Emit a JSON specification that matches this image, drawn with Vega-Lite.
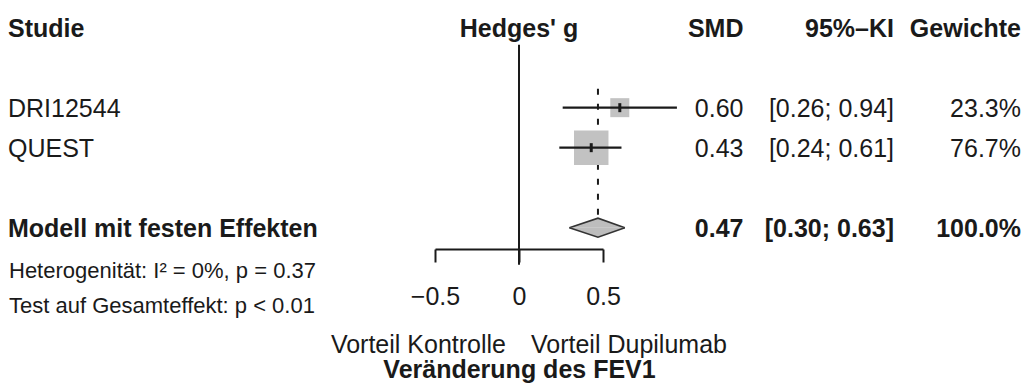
{
  "$schema": "https://vega.github.io/schema/vega-lite/v6.json",
  "padding": {"left": 8, "right": 4, "top": 0, "bottom": 0},
  "spacing": 0,
  "bounds": "flush",
  "background": "white",
  "config": {
    "view": {"stroke": null},
    "font": "Liberation Sans",
    "text": {"fontSize": 25, "color": "#1a1a1a", "font": "Liberation Sans", "baseline": "middle"},
    "axisX": {
      "grid": false,
      "domainColor": "#1a1a1a",
      "domainWidth": 2,
      "tickColor": "#1a1a1a",
      "tickWidth": 2,
      "tickSize": 13,
      "labelFont": "Liberation Sans",
      "labelFontSize": 25,
      "labelColor": "#1a1a1a",
      "labelPadding": 22,
      "labelFlush": false,
      "labelOverlap": false,
      "titleFont": "Liberation Sans",
      "titleFontSize": 25,
      "titleFontWeight": "bold",
      "titleColor": "#1a1a1a",
      "titlePadding": 48
    }
  },
  "datasets": {
    "kopf": [
      {"studie": "Studie", "effekt": "Hedges' g", "smd": "SMD", "ki": "95%–KI", "gewicht": "Gewichte"}
    ],
    "studien": [
      {"studie": "DRI12544", "smd": 0.60, "untere": 0.26, "obere": 0.94, "gewicht": 0.233},
      {"studie": "QUEST", "smd": 0.43, "untere": 0.24, "obere": 0.61, "gewicht": 0.767}
    ],
    "gesamt": [
      {"studie": "Modell mit festen Effekten", "smd": 0.47, "untere": 0.30, "obere": 0.63, "gewicht": 1.0}
    ],
    "statistik": [
      {"zeile": "Heterogenität", "text": "Heterogenität: I² = 0%, p = 0.37"},
      {"zeile": "Test", "text": "Test auf Gesamteffekt: p < 0.01"}
    ],
    "seiten": [
      {"seite": "links", "text": "Vorteil Kontrolle"},
      {"seite": "rechts", "text": "Vorteil Dupilumab"}
    ]
  },
  "hconcat": [
    {
      "width": 426.5,
      "height": 387,
      "layer": [
        {
          "data": {"name": "kopf"},
          "mark": {"type": "text", "align": "left", "fontWeight": "bold", "dy": 1},
          "encoding": {
            "x": {"value": 0},
            "y": {"datum": "Kopf", "type": "nominal", "axis": null,
                  "scale": {"type": "point", "domain": ["Kopf", "Leer1", "DRI12544", "QUEST", "Leer2", "Modell mit festen Effekten", "Heterogenität", "Test", "Vorteil"], "padding": 0.8375, "align": 0.413, "round": false}},
            "text": {"field": "studie"}
          }
        },
        {
          "data": {"name": "studien"},
          "mark": {"type": "text", "align": "left", "dy": 1},
          "encoding": {
            "x": {"value": 0},
            "y": {"field": "studie", "type": "nominal", "axis": null,
                  "scale": {"type": "point", "domain": ["Kopf", "Leer1", "DRI12544", "QUEST", "Leer2", "Modell mit festen Effekten", "Heterogenität", "Test", "Vorteil"], "padding": 0.8375, "align": 0.413, "round": false}},
            "text": {"field": "studie"}
          }
        },
        {
          "data": {"name": "gesamt"},
          "mark": {"type": "text", "align": "left", "fontWeight": "bold", "dy": 1},
          "encoding": {
            "x": {"value": 0},
            "y": {"field": "studie", "type": "nominal", "axis": null,
                  "scale": {"type": "point", "domain": ["Kopf", "Leer1", "DRI12544", "QUEST", "Leer2", "Modell mit festen Effekten", "Heterogenität", "Test", "Vorteil"], "padding": 0.8375, "align": 0.413, "round": false}},
            "text": {"field": "studie"}
          }
        },
        {
          "data": {"name": "statistik"},
          "transform": [{"filter": "datum.zeile === 'Heterogenität'"}],
          "mark": {"type": "text", "align": "left", "fontSize": 22, "dx": 1, "dy": 3},
          "encoding": {
            "x": {"value": 0},
            "y": {"field": "zeile", "type": "nominal", "axis": null,
                  "scale": {"type": "point", "domain": ["Kopf", "Leer1", "DRI12544", "QUEST", "Leer2", "Modell mit festen Effekten", "Heterogenität", "Test", "Vorteil"], "padding": 0.8375, "align": 0.413, "round": false}},
            "text": {"field": "text"}
          }
        },
        {
          "data": {"name": "statistik"},
          "transform": [{"filter": "datum.zeile === 'Test'"}],
          "mark": {"type": "text", "align": "left", "fontSize": 22, "dx": 1, "dy": -2},
          "encoding": {
            "x": {"value": 0},
            "y": {"field": "zeile", "type": "nominal", "axis": null,
                  "scale": {"type": "point", "domain": ["Kopf", "Leer1", "DRI12544", "QUEST", "Leer2", "Modell mit festen Effekten", "Heterogenität", "Test", "Vorteil"], "padding": 0.8375, "align": 0.413, "round": false}},
            "text": {"field": "text"}
          }
        }
      ]
    },
    {
      "width": 168,
      "height": 387,
      "layer": [
        {
          "data": {"name": "gesamt"},
          "mark": {"type": "rule", "color": "#1a1a1a", "strokeWidth": 2, "yOffset": 17, "y2Offset": -3},
          "encoding": {
            "x": {"datum": 0, "type": "quantitative", "title": "Veränderung des FEV1",
                  "scale": {"domain": [-0.5, 0.5], "nice": false, "zero": false},
                  "axis": {"values": [-0.5, 0, 0.5], "format": "~g", "offset": -138}},
            "y": {"datum": "Kopf", "type": "nominal", "axis": null,
                  "scale": {"type": "point", "domain": ["Kopf", "Leer1", "DRI12544", "QUEST", "Leer2", "Modell mit festen Effekten", "Heterogenität", "Test", "Vorteil"], "padding": 0.8375, "align": 0.413, "round": false}},
            "y2": {"datum": "Heterogenität"}
          }
        },
        {
          "data": {"name": "gesamt"},
          "mark": {"type": "rule", "color": "#1a1a1a", "strokeWidth": 2, "strokeDash": [6, 9], "yOffset": -19, "y2Offset": -9.5},
          "encoding": {
            "x": {"field": "smd", "type": "quantitative", "title": "Veränderung des FEV1",
                  "scale": {"domain": [-0.5, 0.5], "nice": false, "zero": false},
                  "axis": {"values": [-0.5, 0, 0.5], "format": "~g", "offset": -138}},
            "y": {"datum": "DRI12544", "type": "nominal", "axis": null,
                  "scale": {"type": "point", "domain": ["Kopf", "Leer1", "DRI12544", "QUEST", "Leer2", "Modell mit festen Effekten", "Heterogenität", "Test", "Vorteil"], "padding": 0.8375, "align": 0.413, "round": false}},
            "y2": {"datum": "Modell mit festen Effekten"}
          }
        },
        {
          "data": {"name": "studien"},
          "mark": {"type": "square", "filled": true, "color": "#c2c2c2", "opacity": 1},
          "encoding": {
            "x": {"field": "smd", "type": "quantitative", "title": "Veränderung des FEV1",
                  "scale": {"domain": [-0.5, 0.5], "nice": false, "zero": false},
                  "axis": {"values": [-0.5, 0, 0.5], "format": "~g", "offset": -138}},
            "y": {"field": "studie", "type": "nominal", "axis": null,
                  "scale": {"type": "point", "domain": ["Kopf", "Leer1", "DRI12544", "QUEST", "Leer2", "Modell mit festen Effekten", "Heterogenität", "Test", "Vorteil"], "padding": 0.8375, "align": 0.413, "round": false}},
            "size": {"field": "gewicht", "type": "quantitative", "legend": null,
                     "scale": {"domain": [0, 1], "range": [0, 1550]}}
          }
        },
        {
          "data": {"name": "studien"},
          "mark": {"type": "rule", "color": "#1a1a1a", "strokeWidth": 2.2},
          "encoding": {
            "x": {"field": "untere", "type": "quantitative", "title": "Veränderung des FEV1",
                  "scale": {"domain": [-0.5, 0.5], "nice": false, "zero": false},
                  "axis": {"values": [-0.5, 0, 0.5], "format": "~g", "offset": -138}},
            "x2": {"field": "obere"},
            "y": {"field": "studie", "type": "nominal", "axis": null,
                  "scale": {"type": "point", "domain": ["Kopf", "Leer1", "DRI12544", "QUEST", "Leer2", "Modell mit festen Effekten", "Heterogenität", "Test", "Vorteil"], "padding": 0.8375, "align": 0.413, "round": false}}
          }
        },
        {
          "data": {"name": "studien"},
          "mark": {"type": "tick", "color": "#1a1a1a", "size": 9, "thickness": 3, "opacity": 1},
          "encoding": {
            "x": {"field": "smd", "type": "quantitative", "title": "Veränderung des FEV1",
                  "scale": {"domain": [-0.5, 0.5], "nice": false, "zero": false},
                  "axis": {"values": [-0.5, 0, 0.5], "format": "~g", "offset": -138}},
            "y": {"field": "studie", "type": "nominal", "axis": null,
                  "scale": {"type": "point", "domain": ["Kopf", "Leer1", "DRI12544", "QUEST", "Leer2", "Modell mit festen Effekten", "Heterogenität", "Test", "Vorteil"], "padding": 0.8375, "align": 0.413, "round": false}}
          }
        },
        {
          "data": {"name": "gesamt"},
          "transform": [{"fold": ["untere", "smd", "obere"], "as": ["ecke", "wert"]}],
          "mark": {"type": "line", "fill": "#bdbdbd", "stroke": "#333333", "strokeWidth": 1.6,
                   "yOffset": {"expr": "datum.ecke === 'smd' ? -9.5 : 0"}},
          "encoding": {
            "x": {"field": "wert", "type": "quantitative", "title": "Veränderung des FEV1",
                  "scale": {"domain": [-0.5, 0.5], "nice": false, "zero": false},
                  "axis": {"values": [-0.5, 0, 0.5], "format": "~g", "offset": -138}},
            "y": {"field": "studie", "type": "nominal", "axis": null,
                  "scale": {"type": "point", "domain": ["Kopf", "Leer1", "DRI12544", "QUEST", "Leer2", "Modell mit festen Effekten", "Heterogenität", "Test", "Vorteil"], "padding": 0.8375, "align": 0.413, "round": false}},
            "order": {"value": null}
          }
        },
        {
          "data": {"name": "gesamt"},
          "transform": [{"fold": ["untere", "smd", "obere"], "as": ["ecke", "wert"]}],
          "mark": {"type": "line", "fill": "#bdbdbd", "stroke": "#333333", "strokeWidth": 1.6,
                   "yOffset": {"expr": "datum.ecke === 'smd' ? 9.5 : 0"}},
          "encoding": {
            "x": {"field": "wert", "type": "quantitative", "title": "Veränderung des FEV1",
                  "scale": {"domain": [-0.5, 0.5], "nice": false, "zero": false},
                  "axis": {"values": [-0.5, 0, 0.5], "format": "~g", "offset": -138}},
            "y": {"field": "studie", "type": "nominal", "axis": null,
                  "scale": {"type": "point", "domain": ["Kopf", "Leer1", "DRI12544", "QUEST", "Leer2", "Modell mit festen Effekten", "Heterogenität", "Test", "Vorteil"], "padding": 0.8375, "align": 0.413, "round": false}},
            "order": {"value": null}
          }
        },
        {
          "data": {"name": "kopf"},
          "mark": {"type": "text", "align": "center", "fontWeight": "bold", "dy": 1},
          "encoding": {
            "x": {"datum": 0, "type": "quantitative", "title": "Veränderung des FEV1",
                  "scale": {"domain": [-0.5, 0.5], "nice": false, "zero": false},
                  "axis": {"values": [-0.5, 0, 0.5], "format": "~g", "offset": -138}},
            "y": {"datum": "Kopf", "type": "nominal", "axis": null,
                  "scale": {"type": "point", "domain": ["Kopf", "Leer1", "DRI12544", "QUEST", "Leer2", "Modell mit festen Effekten", "Heterogenität", "Test", "Vorteil"], "padding": 0.8375, "align": 0.413, "round": false}},
            "text": {"field": "effekt"}
          }
        },
        {
          "data": {"name": "seiten"},
          "transform": [{"filter": "datum.seite === 'links'"}],
          "mark": {"type": "text", "align": "right", "dx": -13, "dy": -3},
          "encoding": {
            "x": {"datum": 0, "type": "quantitative", "title": "Veränderung des FEV1",
                  "scale": {"domain": [-0.5, 0.5], "nice": false, "zero": false},
                  "axis": {"values": [-0.5, 0, 0.5], "format": "~g", "offset": -138}},
            "y": {"datum": "Vorteil", "type": "nominal", "axis": null,
                  "scale": {"type": "point", "domain": ["Kopf", "Leer1", "DRI12544", "QUEST", "Leer2", "Modell mit festen Effekten", "Heterogenität", "Test", "Vorteil"], "padding": 0.8375, "align": 0.413, "round": false}},
            "text": {"field": "text"}
          }
        },
        {
          "data": {"name": "seiten"},
          "transform": [{"filter": "datum.seite === 'rechts'"}],
          "mark": {"type": "text", "align": "left", "dx": 12, "dy": -3},
          "encoding": {
            "x": {"datum": 0, "type": "quantitative", "title": "Veränderung des FEV1",
                  "scale": {"domain": [-0.5, 0.5], "nice": false, "zero": false},
                  "axis": {"values": [-0.5, 0, 0.5], "format": "~g", "offset": -138}},
            "y": {"datum": "Vorteil", "type": "nominal", "axis": null,
                  "scale": {"type": "point", "domain": ["Kopf", "Leer1", "DRI12544", "QUEST", "Leer2", "Modell mit festen Effekten", "Heterogenität", "Test", "Vorteil"], "padding": 0.8375, "align": 0.413, "round": false}},
            "text": {"field": "text"}
          }
        }
      ]
    },
    {
      "width": 140.5,
      "height": 387,
      "layer": [
        {
          "data": {"name": "kopf"},
          "mark": {"type": "text", "align": "right", "fontWeight": "bold", "dy": 1},
          "encoding": {
            "x": {"value": "width"},
            "y": {"datum": "Kopf", "type": "nominal", "axis": null,
                  "scale": {"type": "point", "domain": ["Kopf", "Leer1", "DRI12544", "QUEST", "Leer2", "Modell mit festen Effekten", "Heterogenität", "Test", "Vorteil"], "padding": 0.8375, "align": 0.413, "round": false}},
            "text": {"field": "smd"}
          }
        },
        {
          "data": {"name": "studien"},
          "mark": {"type": "text", "align": "right", "dy": 1},
          "encoding": {
            "x": {"value": "width"},
            "y": {"field": "studie", "type": "nominal", "axis": null,
                  "scale": {"type": "point", "domain": ["Kopf", "Leer1", "DRI12544", "QUEST", "Leer2", "Modell mit festen Effekten", "Heterogenität", "Test", "Vorteil"], "padding": 0.8375, "align": 0.413, "round": false}},
            "text": {"field": "smd", "type": "quantitative", "format": ".2f"}
          }
        },
        {
          "data": {"name": "gesamt"},
          "mark": {"type": "text", "align": "right", "fontWeight": "bold", "dy": 1},
          "encoding": {
            "x": {"value": "width"},
            "y": {"field": "studie", "type": "nominal", "axis": null,
                  "scale": {"type": "point", "domain": ["Kopf", "Leer1", "DRI12544", "QUEST", "Leer2", "Modell mit festen Effekten", "Heterogenität", "Test", "Vorteil"], "padding": 0.8375, "align": 0.413, "round": false}},
            "text": {"field": "smd", "type": "quantitative", "format": ".2f"}
          }
        }
      ]
    },
    {
      "width": 150,
      "height": 387,
      "layer": [
        {
          "data": {"name": "kopf"},
          "mark": {"type": "text", "align": "right", "fontWeight": "bold", "dy": 1},
          "encoding": {
            "x": {"value": "width"},
            "y": {"datum": "Kopf", "type": "nominal", "axis": null,
                  "scale": {"type": "point", "domain": ["Kopf", "Leer1", "DRI12544", "QUEST", "Leer2", "Modell mit festen Effekten", "Heterogenität", "Test", "Vorteil"], "padding": 0.8375, "align": 0.413, "round": false}},
            "text": {"field": "ki"}
          }
        },
        {
          "data": {"name": "studien"},
          "transform": [{"calculate": "'[' + format(datum.untere, '.2f') + '; ' + format(datum.obere, '.2f') + ']'", "as": "intervall"}],
          "mark": {"type": "text", "align": "right", "dy": 1},
          "encoding": {
            "x": {"value": "width"},
            "y": {"field": "studie", "type": "nominal", "axis": null,
                  "scale": {"type": "point", "domain": ["Kopf", "Leer1", "DRI12544", "QUEST", "Leer2", "Modell mit festen Effekten", "Heterogenität", "Test", "Vorteil"], "padding": 0.8375, "align": 0.413, "round": false}},
            "text": {"field": "intervall"}
          }
        },
        {
          "data": {"name": "gesamt"},
          "transform": [{"calculate": "'[' + format(datum.untere, '.2f') + '; ' + format(datum.obere, '.2f') + ']'", "as": "intervall"}],
          "mark": {"type": "text", "align": "right", "fontWeight": "bold", "dy": 1},
          "encoding": {
            "x": {"value": "width"},
            "y": {"field": "studie", "type": "nominal", "axis": null,
                  "scale": {"type": "point", "domain": ["Kopf", "Leer1", "DRI12544", "QUEST", "Leer2", "Modell mit festen Effekten", "Heterogenität", "Test", "Vorteil"], "padding": 0.8375, "align": 0.413, "round": false}},
            "text": {"field": "intervall"}
          }
        }
      ]
    },
    {
      "width": 127,
      "height": 387,
      "layer": [
        {
          "data": {"name": "kopf"},
          "mark": {"type": "text", "align": "right", "fontWeight": "bold", "dy": 1},
          "encoding": {
            "x": {"value": "width"},
            "y": {"datum": "Kopf", "type": "nominal", "axis": null,
                  "scale": {"type": "point", "domain": ["Kopf", "Leer1", "DRI12544", "QUEST", "Leer2", "Modell mit festen Effekten", "Heterogenität", "Test", "Vorteil"], "padding": 0.8375, "align": 0.413, "round": false}},
            "text": {"field": "gewicht"}
          }
        },
        {
          "data": {"name": "studien"},
          "mark": {"type": "text", "align": "right", "dy": 1},
          "encoding": {
            "x": {"value": "width"},
            "y": {"field": "studie", "type": "nominal", "axis": null,
                  "scale": {"type": "point", "domain": ["Kopf", "Leer1", "DRI12544", "QUEST", "Leer2", "Modell mit festen Effekten", "Heterogenität", "Test", "Vorteil"], "padding": 0.8375, "align": 0.413, "round": false}},
            "text": {"field": "gewicht", "type": "quantitative", "format": ".1%"}
          }
        },
        {
          "data": {"name": "gesamt"},
          "mark": {"type": "text", "align": "right", "fontWeight": "bold", "dy": 1},
          "encoding": {
            "x": {"value": "width"},
            "y": {"field": "studie", "type": "nominal", "axis": null,
                  "scale": {"type": "point", "domain": ["Kopf", "Leer1", "DRI12544", "QUEST", "Leer2", "Modell mit festen Effekten", "Heterogenität", "Test", "Vorteil"], "padding": 0.8375, "align": 0.413, "round": false}},
            "text": {"field": "gewicht", "type": "quantitative", "format": ".1%"}
          }
        }
      ]
    }
  ]
}
